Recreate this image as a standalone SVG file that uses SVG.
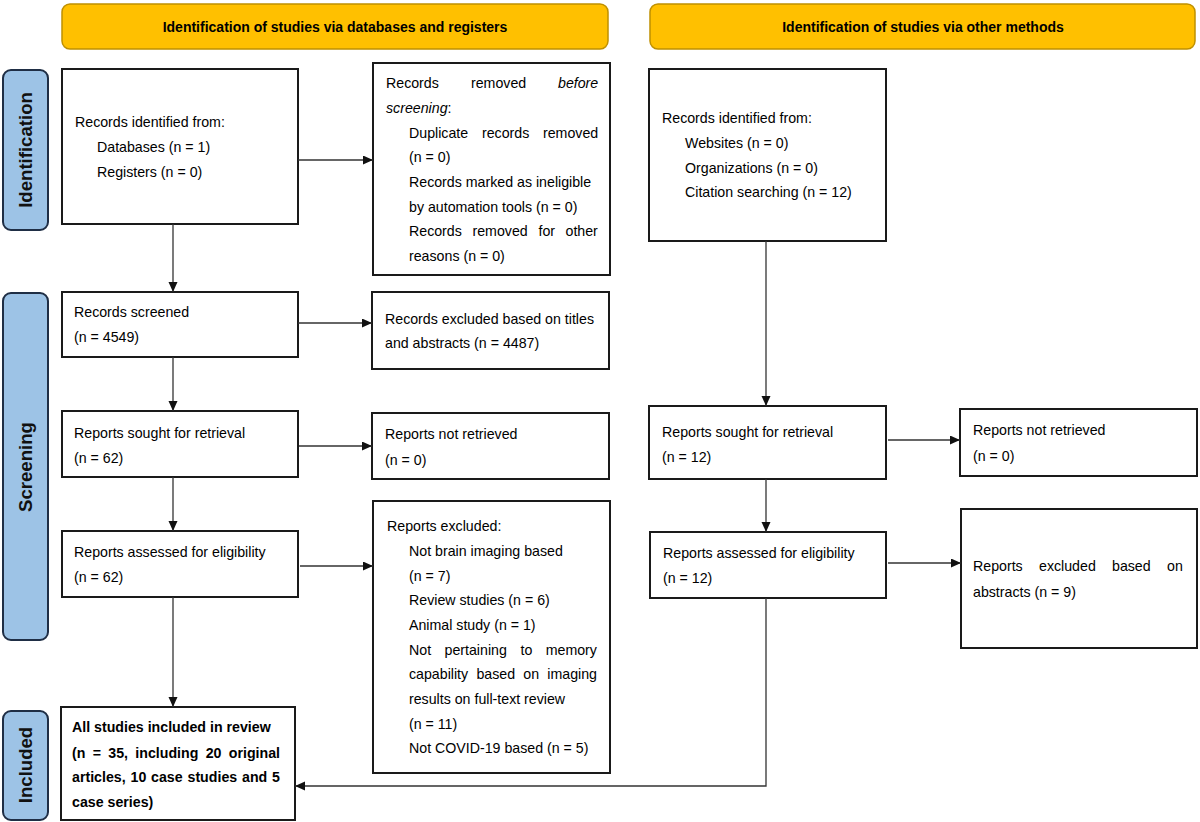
<svg xmlns="http://www.w3.org/2000/svg" width="1200" height="822" viewBox="0 0 1200 822">
<style>
.bg{fill:#ffffff}
.hdr{fill:#FFC000;stroke:#BF9000;stroke-width:1.5}
.lbl{fill:#9DC3E6;stroke:#1F2E45;stroke-width:2}
.box{fill:#ffffff;stroke:#1a1a1a;stroke-width:2}
.t{font-family:"Liberation Sans",Arial,sans-serif;font-size:14.2px;fill:#000}
.tb{font-family:"Liberation Sans",Arial,sans-serif;font-size:14.2px;font-weight:bold;fill:#000}
.ht{font-family:"Liberation Sans",Arial,sans-serif;font-size:14px;font-weight:bold;fill:#000;text-anchor:middle}
.lt{font-family:"Liberation Sans",Arial,sans-serif;font-size:18.6px;font-weight:bold;fill:#111;text-anchor:middle}
.c{fill:none;stroke:#333;stroke-width:1.3}
</style>
<defs>
<marker id="ah" markerUnits="userSpaceOnUse" markerWidth="11" markerHeight="10" refX="10" refY="4.5" orient="auto">
<path d="M0,0 L10,4.5 L0,9 z" fill="#111"/>
</marker>
</defs>
<rect class="bg" x="0" y="0" width="1200" height="822"/>

<g id="header-databases">
<rect class="hdr" x="62" y="4" width="546" height="45" rx="8"/>
<text class="ht" x="335" y="32">Identification of studies via databases and registers</text>
</g>
<g id="header-other">
<rect class="hdr" x="650" y="4" width="545" height="45" rx="8"/>
<text class="ht" x="923" y="32">Identification of studies via other methods</text>
</g>

<g id="label-identification">
<rect class="lbl" x="3" y="70" width="45" height="160" rx="8"/>
<text class="lt" transform="translate(32,150) rotate(-90)">Identification</text>
</g>
<g id="label-screening">
<rect class="lbl" x="3" y="293" width="45" height="347" rx="8"/>
<text class="lt" transform="translate(32,467) rotate(-90)">Screening</text>
</g>
<g id="label-included">
<rect class="lbl" x="3" y="711" width="45" height="109" rx="8"/>
<text class="lt" transform="translate(32,765) rotate(-90)">Included</text>
</g>

<g id="records-identified-db">
<rect class="box" x="62" y="69" width="236" height="155"/>
<text class="t" x="75" y="127">Records identified from:</text>
<text class="t" x="97" y="152">Databases (n = 1)</text>
<text class="t" x="97" y="177">Registers (n = 0)</text>
</g>

<g id="records-removed">
<rect class="box" x="373" y="63" width="237" height="212"/>
<text class="t" y="88"><tspan x="386">Records</tspan><tspan x="471">removed</tspan><tspan x="558" font-style="italic">before</tspan></text>
<text class="t" x="386" y="113"><tspan font-style="italic">screening</tspan>:</text>
<text class="t" y="138"><tspan x="409">Duplicate</tspan><tspan x="482">records</tspan><tspan x="543">removed</tspan></text>
<text class="t" x="409" y="162">(n = 0)</text>
<text class="t" x="409" y="187">Records marked as ineligible</text>
<text class="t" x="409" y="212">by automation tools (n = 0)</text>
<text class="t" y="236"><tspan x="409">Records</tspan><tspan x="472.5">removed</tspan><tspan x="538.5">for</tspan><tspan x="565.5">other</tspan></text>
<text class="t" x="409" y="261">reasons (n = 0)</text>
</g>

<g id="records-identified-other">
<rect class="box" x="649" y="69" width="237" height="172"/>
<text class="t" x="662" y="123">Records identified from:</text>
<text class="t" x="685" y="148">Websites (n = 0)</text>
<text class="t" x="685" y="173">Organizations (n = 0)</text>
<text class="t" x="685" y="197">Citation searching (n = 12)</text>
</g>

<g id="records-screened">
<rect class="box" x="62" y="292" width="236" height="65"/>
<text class="t" x="74" y="317">Records screened</text>
<text class="t" x="74" y="342">(n = 4549)</text>
</g>

<g id="records-excluded">
<rect class="box" x="372" y="292" width="237" height="77"/>
<text class="t" x="385" y="324">Records excluded based on titles</text>
<text class="t" x="385" y="348">and abstracts (n = 4487)</text>
</g>

<g id="reports-sought-db">
<rect class="box" x="62" y="411" width="236" height="66"/>
<text class="t" x="74" y="438">Reports sought for retrieval</text>
<text class="t" x="74" y="463">(n = 62)</text>
</g>

<g id="reports-not-retrieved-db">
<rect class="box" x="372" y="413" width="237" height="66"/>
<text class="t" x="385" y="439">Reports not retrieved</text>
<text class="t" x="385" y="465">(n = 0)</text>
</g>

<g id="reports-assessed-db">
<rect class="box" x="62" y="531" width="236" height="66"/>
<text class="t" x="74" y="557">Reports assessed for eligibility</text>
<text class="t" x="74" y="582">(n = 62)</text>
</g>

<g id="reports-excluded-db">
<rect class="box" x="373" y="501" width="237" height="272"/>
<text class="t" x="387" y="531">Reports excluded:</text>
<text class="t" x="409" y="556">Not brain imaging based</text>
<text class="t" x="409" y="581">(n = 7)</text>
<text class="t" x="409" y="605">Review studies (n = 6)</text>
<text class="t" x="409" y="630">Animal study (n = 1)</text>
<text class="t" y="655"><tspan x="409">Not</tspan><tspan x="444.5">pertaining</tspan><tspan x="520.5">to</tspan><tspan x="545.7">memory</tspan></text>
<text class="t" y="679"><tspan x="409">capability</tspan><tspan x="476.4">based</tspan><tspan x="523.3">on</tspan><tspan x="547.3">imaging</tspan></text>
<text class="t" x="409" y="704">results on full-text review</text>
<text class="t" x="409" y="729">(n = 11)</text>
<text class="t" x="409" y="753">Not COVID-19 based (n = 5)</text>
</g>

<g id="studies-included">
<rect class="box" x="61" y="707" width="234" height="113"/>
<text class="tb" x="72" y="732">All studies included in review</text>
<text class="tb" y="758"><tspan x="72">(n</tspan><tspan x="92.7">=</tspan><tspan x="108.3">35,</tspan><tspan x="135.3">including</tspan><tspan x="205.7">20</tspan><tspan x="228.8">original</tspan></text>
<text class="tb" y="782"><tspan x="72">articles,</tspan><tspan x="130.5">10</tspan><tspan x="151.1">case</tspan><tspan x="187.5">studies</tspan><tspan x="242">and</tspan><tspan x="272">5</tspan></text>
<text class="tb" x="72" y="807">case series)</text>
</g>

<g id="reports-sought-other">
<rect class="box" x="649" y="406" width="237" height="73"/>
<text class="t" x="662" y="437">Reports sought for retrieval</text>
<text class="t" x="662" y="462">(n = 12)</text>
</g>

<g id="reports-not-retrieved-other">
<rect class="box" x="960" y="409" width="237" height="67"/>
<text class="t" x="973" y="435">Reports not retrieved</text>
<text class="t" x="973" y="461">(n = 0)</text>
</g>

<g id="reports-assessed-other">
<rect class="box" x="650" y="532" width="236" height="66"/>
<text class="t" x="663" y="558">Reports assessed for eligibility</text>
<text class="t" x="663" y="583">(n = 12)</text>
</g>

<g id="reports-excluded-other">
<rect class="box" x="961" y="509" width="236" height="139"/>
<text class="t" y="571"><tspan x="973">Reports</tspan><tspan x="1039">excluded</tspan><tspan x="1112">based</tspan><tspan x="1167">on</tspan></text>
<text class="t" x="973" y="597">abstracts (n = 9)</text>
</g>

<g id="connectors">
<line class="c" x1="173" y1="224" x2="173" y2="292" marker-end="url(#ah)"/>
<line class="c" x1="173" y1="357" x2="173" y2="411" marker-end="url(#ah)"/>
<line class="c" x1="173" y1="477" x2="173" y2="531" marker-end="url(#ah)"/>
<line class="c" x1="173" y1="597" x2="173" y2="707" marker-end="url(#ah)"/>
<line class="c" x1="298" y1="160" x2="373" y2="160" marker-end="url(#ah)"/>
<line class="c" x1="298" y1="323" x2="372" y2="323" marker-end="url(#ah)"/>
<line class="c" x1="299" y1="446" x2="372" y2="446" marker-end="url(#ah)"/>
<line class="c" x1="300" y1="566" x2="373" y2="566" marker-end="url(#ah)"/>
<line class="c" x1="766" y1="241" x2="766" y2="406" marker-end="url(#ah)"/>
<line class="c" x1="766" y1="479" x2="766" y2="532" marker-end="url(#ah)"/>
<polyline class="c" points="766,598 766,786 295,786" marker-end="url(#ah)"/>
<line class="c" x1="888" y1="440" x2="960" y2="440" marker-end="url(#ah)"/>
<line class="c" x1="888" y1="563" x2="961" y2="563" marker-end="url(#ah)"/>
</g>
</svg>
